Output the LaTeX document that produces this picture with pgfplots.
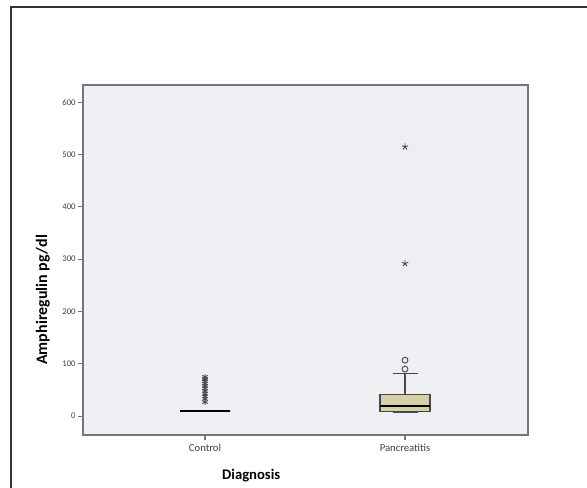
\documentclass[border=0pt]{standalone}
\usepackage{pgfplots}
\pgfplotsset{compat=1.18}
\usepgfplotslibrary{statistics}
\usepackage{fontspec}
\setmainfont{Carlito}
\definecolor{bgc}{RGB}{238,239,242}
\definecolor{boxc}{RGB}{214,208,166}
\definecolor{axc}{RGB}{115,118,122}
\definecolor{mkc}{RGB}{70,72,78}
\begin{document}
\begin{tikzpicture}
\useasboundingbox (0pt,0pt) rectangle (440.25pt,365.25pt);
\draw[line width=1pt,black!80] (8.25pt,-5pt) -- (8.25pt,360pt) -- (450pt,360pt);
\begin{axis}[
  at={(62.25pt,39pt)}, anchor=south west,
  scale only axis, width=333.75pt, height=262.5pt,
  xmin=0.39, xmax=2.615, ymin=-36, ymax=633,
  axis background/.style={fill=bgc},
  axis line style={axc, line width=0.9pt},
  xtick={1,2}, xticklabels={Control,Pancreatitis},
  ytick={0,100,200,300,400,500,600},
  tick align=outside, tick pos=lower,
  major tick length=4pt,
  tick style={axc, line width=0.8pt},
  yticklabel style={font=\fontsize{6.5}{7}\selectfont, text=black!75, xshift=2pt},
  xticklabel style={font=\fontsize{8}{9}\selectfont, text=black!75, yshift=1pt},
  /pgf/number format/assume math mode=true,
  ylabel={\textbf{Amphiregulin pg/dl}},
  ylabel style={font=\fontsize{12}{14}\selectfont, at={(axis description cs:-0.09,0.386)}, anchor=center},
  xlabel={\textbf{Diagnosis}},
  xlabel style={font=\fontsize{11}{13}\selectfont, at={(axis description cs:0.378,-0.117)}, anchor=center},
  boxplot/draw direction=y,
  clip=false,
]
% Control
\addplot[black, line width=1.6pt, fill=boxc,
  boxplot prepared={draw position=1, lower whisker=10, lower quartile=10,
    median=10, upper quartile=10, upper whisker=10,
    box extend=0.25, whisker extend=0.125}]
  coordinates {};
% Pancreatitis
\addplot[mkc, line width=0.8pt, fill=boxc,
  boxplot prepared={draw position=2, lower whisker=8, lower quartile=9,
    median=20, upper quartile=42, upper whisker=82,
    box extend=0.25, whisker extend=0.125},
  boxplot/every median/.style={black, line width=1.6pt},
  mark=o, mark size=2.2pt, mark options={mkc, line width=0.7pt, fill=none}]
  table[row sep=\\, y index=0] {90\\ 107\\};
% star outliers
\addplot[only marks, mark=asterisk, mark size=2.3pt, mkc, line width=0.7pt]
  coordinates {(1,27) (1,33) (1,38) (1,43) (1,48) (1,53) (1,58) (1,62) (1,67) (1,71) (1,75)};
\addplot[only marks, mark=star, mark size=2.5pt, mkc, line width=0.7pt]
  coordinates {(2,292) (2,515)};
\end{axis}
\end{tikzpicture}
\end{document}
